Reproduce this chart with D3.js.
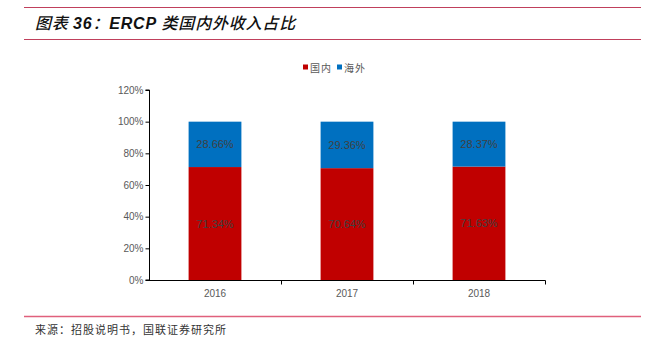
<!DOCTYPE html>
<html>
<head>
<meta charset="utf-8">
<script src="https://cdn.jsdelivr.net/npm/d3@7/dist/d3.min.js"></script>
<style>
  html, body { margin: 0; padding: 0; background: #fff; }
  svg { display: block; }
</style>
</head>
<body>
<svg id="chart" width="648" height="346"></svg>
<script>
// Revenue split by region (share of total), per year
const years = ["2016", "2017", "2018"];
const domestic = [71.34, 70.64, 71.63];
const overseas = [28.66, 29.36, 28.37];
const seriesNames = ["国内", "海外"];
const yTicks = [0, 20, 40, 60, 80, 100, 120];

const svg = d3.select("#chart");
const cjk = "'Noto Sans CJK SC', sans-serif";
const latin = "Arial, 'Liberation Sans', sans-serif";

// Header and footer rules
svg.append("line").attr("x1", 24).attr("x2", 641).attr("y1", 7.5).attr("y2", 7.5)
  .attr("stroke", "#c0405c").attr("stroke-width", 1.2);
svg.append("line").attr("x1", 24).attr("x2", 641).attr("y1", 39.5).attr("y2", 39.5)
  .attr("stroke", "#c0405c").attr("stroke-width", 1.2);
svg.append("line").attr("x1", 24).attr("x2", 641).attr("y1", 316.5).attr("y2", 316.5)
  .attr("stroke", "#e0607c").attr("stroke-width", 1.4);

// Title
const title = svg.append("text").attr("x", 35).attr("y", 29)
  .attr("font-size", 16).attr("font-style", "italic")
  .attr("letter-spacing", 0.8)
  .attr("fill", "#111");
title.append("tspan").attr("font-family", cjk).attr("font-weight", 500).text("图表 ");
title.append("tspan").attr("font-family", latin).attr("font-weight", "bold").text("36");
title.append("tspan").attr("font-family", cjk).attr("font-weight", 500).text("：");
title.append("tspan").attr("font-family", latin).attr("font-weight", "bold").text("ERCP ");
title.append("tspan").attr("font-family", cjk).attr("font-weight", 500).text("类国内外收入占比");

// Source note
svg.append("text").attr("x", 35).attr("y", 334)
  .attr("font-family", cjk).attr("font-size", 11).attr("letter-spacing", 1)
  .attr("fill", "#333")
  .text("来源：招股说明书，国联证券研究所");

// Scales
const x = d3.scaleBand().domain(years).range([149, 545]).paddingInner(0.6).paddingOuter(0.3);
const y = d3.scaleLinear().domain([0, 120]).range([280, 90]);

const colors = ["#c00000", "#0070c0"];

// Stacked bars
const rows = years.map((yr, i) => ({ year: yr, "国内": domestic[i], "海外": overseas[i] }));
const stacked = d3.stack().keys(seriesNames)(rows);

const groups = svg.append("g").selectAll("g").data(stacked).join("g")
  .attr("fill", (d, i) => colors[i]);
groups.selectAll("rect").data(d => d).join("rect")
  .attr("x", d => x(d.data.year))
  .attr("width", x.bandwidth())
  .attr("y", d => y(d[1]))
  .attr("height", d => y(d[0]) - y(d[1]));

// Value labels centred in each segment
groups.selectAll("text").data(d => d.map(v => ({ v, key: d.key }))).join("text")
  .attr("x", d => x(d.v.data.year) + x.bandwidth() / 2)
  .attr("y", d => y((d.v[0] + d.v[1]) / 2) + 4)
  .attr("text-anchor", "middle")
  .attr("font-family", latin).attr("font-size", 11)
  .attr("fill", "#404040")
  .text(d => d.v.data[d.key].toFixed(2) + "%");

// Y axis
const yAxis = d3.axisLeft(y).tickValues(yTicks).tickSize(4).tickFormat(d => d + "%");
const gy = svg.append("g").attr("transform", "translate(149.5,0)").call(yAxis);
gy.select(".domain").attr("stroke", "#000").attr("d", "M-4," + y(120) + "H0V" + y(0) + "H-4");
gy.selectAll(".tick line").attr("stroke", "#000");
gy.selectAll(".tick text").attr("font-family", latin).attr("font-size", 10).attr("fill", "#595959").attr("x", -6);

// X axis with boundary ticks between categories
const gx = svg.append("g").attr("transform", "translate(0,280.5)");
gx.append("line").attr("x1", 149).attr("x2", 545.5).attr("stroke", "#000");
const step = x.step();
const bounds = [149].concat(years.map((yr, i) => x(yr) - x.paddingInner() * step / 2 + step));
gx.selectAll("line.tk").data(bounds.slice(1)).join("line").attr("class", "tk")
  .attr("x1", d => Math.round(d) + 0.5).attr("x2", d => Math.round(d) + 0.5)
  .attr("y1", 0).attr("y2", 4).attr("stroke", "#000");
gx.selectAll("text").data(years).join("text")
  .attr("x", d => x(d) + x.bandwidth() / 2).attr("y", 16)
  .attr("text-anchor", "middle")
  .attr("font-family", latin).attr("font-size", 10).attr("fill", "#595959")
  .text(d => d);

// Legend
const legend = svg.append("g").attr("transform", "translate(303,68)");
const items = [{ name: seriesNames[0], c: colors[0], dx: 0 }, { name: seriesNames[1], c: colors[1], dx: 34 }];
items.forEach(it => {
  legend.append("rect").attr("x", it.dx).attr("y", -3.5).attr("width", 5).attr("height", 5).attr("fill", it.c);
  legend.append("text").attr("x", it.dx + 7).attr("y", 3.5)
    .attr("font-family", cjk).attr("font-size", 10).attr("letter-spacing", 1)
    .attr("fill", "#595959").text(it.name);
});
</script>
</body>
</html>
